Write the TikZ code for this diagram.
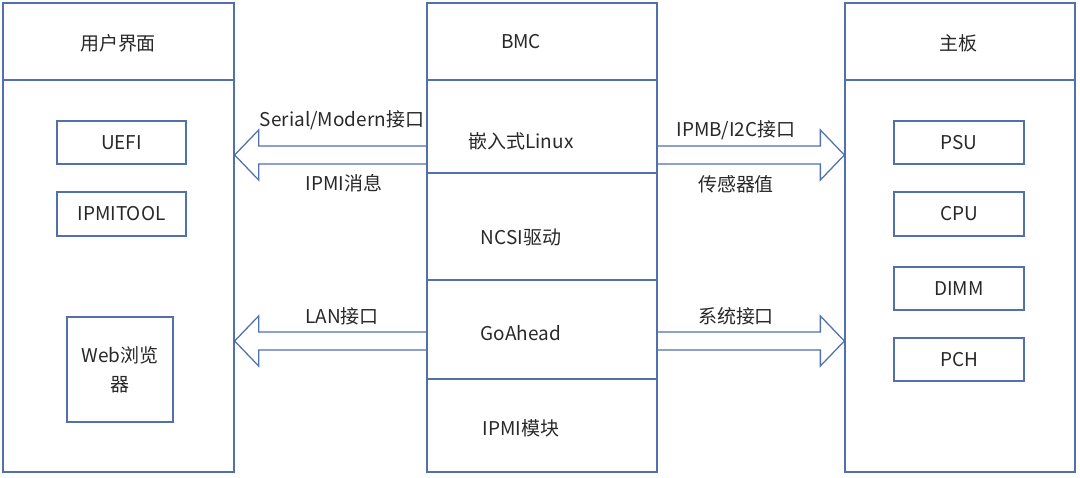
\documentclass[tikz,border=0pt]{standalone}
\usepackage{fontspec}
\setmainfont{Noto Sans CJK SC}
\usepackage{tikz}
\usetikzlibrary{positioning,calc}
\definecolor{frameblue}{RGB}{80,112,174}
\definecolor{textgray}{RGB}{40,40,40}

\begin{document}
\begin{tikzpicture}[x=0.025cm, y=-0.025cm, font=\fontsize{13.5}{20.5}\selectfont, text=textgray,
    frame/.style={rectangle, draw=frameblue, line width=0.9pt, inner sep=0pt},
    part/.style={frame, minimum width=129*0.025cm, minimum height=43*0.025cm},
    divider/.style={draw=frameblue, line width=0.9pt},
    fatarrow/.style={draw=frameblue, line width=0.9pt, line join=miter}]
    \useasboundingbox (0,0) rectangle (1080,478);

    % Columns
    \node[frame, minimum width=231*0.025cm, minimum height=469*0.025cm] (ui) at (118.5,237.5) {};
    \node[frame, minimum width=230*0.025cm, minimum height=469*0.025cm] (bmc) at (542,237.5) {};
    \node[frame, minimum width=230*0.025cm, minimum height=469*0.025cm] (board) at (960,237.5) {};

    % Dividers
    \draw[divider] (ui.west |- 0,80) -- (ui.east |- 0,80);
    \draw[divider] (board.west |- 0,80) -- (board.east |- 0,80);
    \foreach \y in {80,173,280,379}
        \draw[divider] (bmc.west |- 0,\y) -- (bmc.east |- 0,\y);

    % Titles
    \node (uititle) at (118,43) {用户界面};
    \node (bmctitle) at (521,42) {BMC};
    \node (boardtitle) at (958,43) {主板};

    % BMC layers
    \node (linux) at (521,141) {嵌入式Linux};
    \node (ncsi) at (521,237) {NCSI驱动};
    \node (goahead) at (521,333) {GoAhead};
    \node (ipmimod) at (521,428) {IPMI模块};

    % User side
    \node[part] (uefi) at (121.5,142.5) {UEFI};
    \node[part, minimum height=44*0.025cm] (ipmitool) at (121.5,214) {IPMITOOL};
    \node[frame, minimum width=106*0.025cm, minimum height=105*0.025cm, align=center] (web) at (120,369.5) {Web浏览\\器};

    % Board side
    \node[part, minimum width=130*0.025cm] (psu) at (959,142.5) {PSU};
    \node[part, minimum width=130*0.025cm, minimum height=44*0.025cm] (cpu) at (959,214) {CPU};
    \node[part, minimum width=130*0.025cm] (dimm) at (959,288.5) {DIMM};
    \node[part, minimum width=130*0.025cm] (pch) at (959,359.5) {PCH};

    % Arrow ends
    \coordinate (serS) at (bmc.west |- 0,155);
    \coordinate (serT) at (ui.east |- 0,155);
    \coordinate (lanS) at (bmc.west |- 0,341);
    \coordinate (lanT) at (ui.east |- 0,341);
    \coordinate (ipmbS) at (bmc.east |- 0,155);
    \coordinate (ipmbT) at (board.west |- 0,155);
    \coordinate (sysS) at (bmc.east |- 0,341);
    \coordinate (sysT) at (board.west |- 0,341);

    % Connections
    \draw[fatarrow] ($(serS)+(0,-9)$) -- ($(serT)+(24,-9)$) -- ($(serT)+(24,-25)$) -- (serT)
        -- ($(serT)+(24,25)$) -- ($(serT)+(24,9)$) -- ($(serS)+(0,9)$);
    \draw[fatarrow] ($(lanS)+(0,-9)$) -- ($(lanT)+(24,-9)$) -- ($(lanT)+(24,-25)$) -- (lanT)
        -- ($(lanT)+(24,25)$) -- ($(lanT)+(24,9)$) -- ($(lanS)+(0,9)$);
    \draw[fatarrow] ($(ipmbS)+(0,-9)$) -- ($(ipmbT)+(-24,-9)$) -- ($(ipmbT)+(-24,-25)$) -- (ipmbT)
        -- ($(ipmbT)+(-24,25)$) -- ($(ipmbT)+(-24,9)$) -- ($(ipmbS)+(0,9)$);
    \draw[fatarrow] ($(sysS)+(0,-9)$) -- ($(sysT)+(-24,-9)$) -- ($(sysT)+(-24,-25)$) -- (sysT)
        -- ($(sysT)+(-24,25)$) -- ($(sysT)+(-24,9)$) -- ($(sysS)+(0,9)$);

    % Arrow labels
    \node (serlabel) at (342,120) {Serial/Modern接口};
    \node (ipmilabel) at (344,183) {IPMI消息};
    \node (lanlabel) at (342,316) {LAN接口};
    \node (ipmblabel) at (736,130) {IPMB/I2C接口};
    \node (sensorlabel) at (736,184) {传感器值};
    \node (syslabel) at (736,316) {系统接口};
\end{tikzpicture}
\end{document}
